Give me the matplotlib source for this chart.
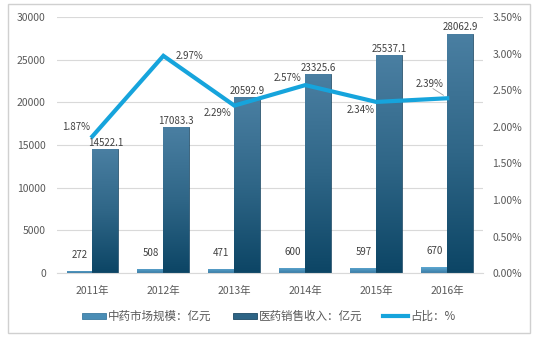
import numpy as np
import matplotlib
matplotlib.use('agg')
import matplotlib.pyplot as plt
from matplotlib.patches import Rectangle
from matplotlib.colors import LinearSegmentedColormap

plt.rcParams['font.family'] = ['Noto Sans CJK SC', 'DejaVu Sans']

years = ['2011年', '2012年', '2013年', '2014年', '2015年', '2016年']
tcm_market = [272, 508, 471, 600, 597, 670]
pharma_sales = [14522.1, 17083.3, 20592.9, 23325.6, 25537.1, 28062.9]
share_pct = [1.87, 2.97, 2.29, 2.57, 2.34, 2.39]
share_labels = ['1.87%', '2.97%', '2.29%', '2.57%', '2.34%', '2.39%']
# label offsets in points (dx, dy) for the percentage labels
share_offsets = [(-12, 7), (19, 0), (-12, -5), (-13, 5), (-11, -6), (-13, 10)]

tick_color = '#595959'
grid_color = '#d9d9d9'
small_color = '#4a8db5'
big_color = '#2d6485'
line_color = '#16a4dc'

small_cmap = LinearSegmentedColormap.from_list('s', ['#3a7ca5', '#5ea8d2'])
big_cmap = LinearSegmentedColormap.from_list('b', ['#0c4565', '#2f6687', '#4a7fa2'])


def shade(ax, bars, cmap):
    # vertical gradient fill, clipped to each bar
    grad = np.linspace(0, 1, 256).reshape(-1, 1)
    for b in bars:
        x0, y0 = b.get_x(), b.get_y()
        w, h = b.get_width(), b.get_height()
        im = ax.imshow(grad, cmap=cmap, origin='lower', aspect='auto',
                       extent=(x0, x0 + w, y0, y0 + h), zorder=2)
        im.set_clip_path(b)
        b.set_facecolor('none')


fig = plt.figure(figsize=(5.37, 3.41), dpi=100)
fig.patches.append(Rectangle((8 / 537, 8 / 341), 522 / 537, 329 / 341,
                             transform=fig.transFigure, fill=False,
                             edgecolor='#d0d0d0', lw=1))
ax = fig.add_axes([0.106, 0.199, 0.793, 0.751])
x = np.arange(len(years))
w = 0.365

b1 = ax.bar(x - w / 2, tcm_market, w, color=small_color, edgecolor='#3b7aa0', lw=0.6,
            label='中药市场规模：亿元', zorder=2)
b2 = ax.bar(x + w / 2, pharma_sales, w, color=big_color, edgecolor='#1d4a66', lw=0.6,
            label='医药销售收入：亿元', zorder=2)

for xi, v in zip(x, tcm_market):
    ax.annotate(str(v), (xi - w / 2, v), xytext=(0, 8), textcoords='offset points',
                ha='center', va='bottom', fontsize=7, color='#404040')
for xi, v in zip(x, pharma_sales):
    ax.annotate('%.1f' % v, (xi + w / 2, v), xytext=(0, 1), textcoords='offset points',
                ha='center', va='bottom', fontsize=7, color='#404040')

ax.set_ylim(0, 30000)
ax.set_yticks(np.arange(0, 30001, 5000))
ax.set_xlim(-0.5, len(years) - 0.5)
ax.set_xticks(x)
ax.set_xticklabels(years)
ax.yaxis.grid(True, color=grid_color, lw=0.8)
ax.set_axisbelow(True)
for s in ax.spines.values():
    s.set_visible(False)
ax.spines['bottom'].set_visible(True)
ax.spines['bottom'].set_color(grid_color)
ax.tick_params(length=0, labelsize=7.5, colors=tick_color)
ax.tick_params(axis='x', pad=9)
ax.tick_params(axis='y', pad=8)

ax2 = ax.twinx()
ln, = ax2.plot(x, share_pct, color=line_color, lw=3, label='占比：%', zorder=3,
               solid_joinstyle='miter')
ax2.set_ylim(0, 3.5)
ax2.set_yticks(np.arange(0, 3.51, 0.5))
ax2.set_yticklabels(['%.2f%%' % t for t in np.arange(0, 3.51, 0.5)])
for s in ax2.spines.values():
    s.set_visible(False)
ax2.tick_params(length=0, labelsize=7.5, colors=tick_color, pad=7)

for i, (xi, v) in enumerate(zip(x, share_pct)):
    dx, dy = share_offsets[i]
    ax2.annotate(share_labels[i], (xi, v), xytext=(dx, dy), textcoords='offset points',
                 ha='center', va='center', fontsize=7, color='#404040')
ax2.annotate('', (x[5] - 0.02, share_pct[5] + 0.02), xytext=(-11, 7),
             textcoords='offset points',
             arrowprops=dict(arrowstyle='-', color='#a0a0a0', lw=0.6))

fig.legend(handles=[b1, b2, ln], loc='center', bbox_to_anchor=(0.5, 0.072), ncol=3,
           frameon=False, fontsize=8.3, labelcolor=tick_color, handlelength=2.1,
           handleheight=0.45, columnspacing=1.8, handletextpad=0.2)

shade(ax, b1, small_cmap)
shade(ax, b2, big_cmap)
ax.set_xlim(-0.5, len(years) - 0.5)
ax.set_ylim(0, 30000)

plt.savefig('out.png', dpi=100)
